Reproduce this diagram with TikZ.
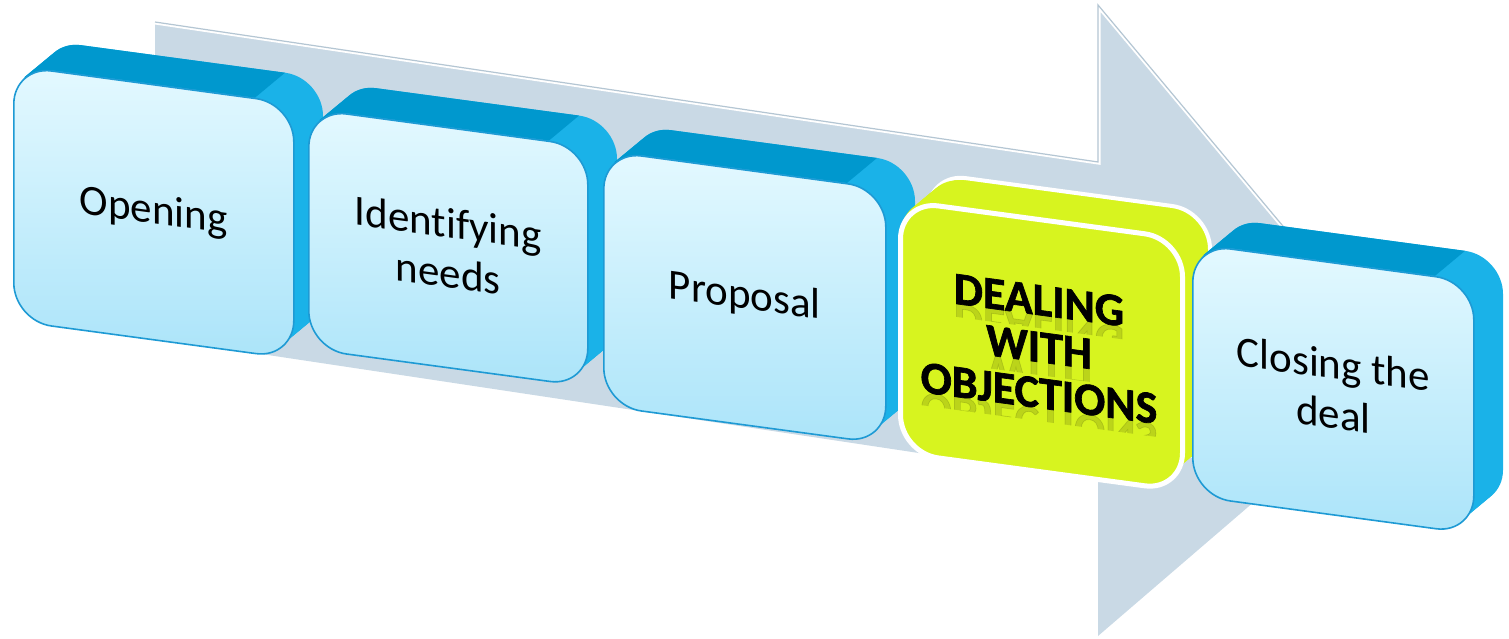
\documentclass[tikz,border=0pt]{standalone}
\usepackage{fontspec}
\setmainfont{Carlito}[Ligatures={NoCommon}]
\newfontfamily\heavyfont{Carlito}[Ligatures={NoCommon}, BoldFeatures={FakeBold=1.5}]
\usepackage{tikz}
\definecolor{arrowgrey}{HTML}{C9D9E5}
\definecolor{arrowedge}{HTML}{B4C6D3}
\definecolor{sideblue}{HTML}{1AB2E8}
\definecolor{topblue}{HTML}{0098CE}
\definecolor{edgeblue}{HTML}{1E9AD4}
\definecolor{facetop}{HTML}{E4F9FF}
\definecolor{facebottom}{HTML}{ABE4F9}
\definecolor{lime}{HTML}{D7F41F}

\tikzset{
  cardside/.style={fill=sideblue, rounded corners=38},
  cardtop/.style={fill=topblue},
  cardface/.style={draw=edgeblue, line width=1.6, rounded corners=38,
    top color=facetop, bottom color=facebottom, transform shape,
    align=center, inner sep=0, font=\fontsize{43}{50}\selectfont},
  limeface/.style={fill=lime, draw=white, line width=5, rounded corners=38,
    transform shape, inner sep=0},
  dealtext/.style={transform shape, inner sep=0,
    font=\heavyfont\bfseries\fontsize{46}{50}\selectfont},
}

% one raised blue step: x, y of the front corner, width, height, name, label
\newcommand{\bluecard}[6]{%
  \begin{scope}[shift={(#1,638-#2)}, yslant=-0.135]
    \foreach \t in {10,...,1}
      \fill[cardside] (3*\t,2.9*\t-#4) rectangle ++(#3,#4);
    \fill[cardtop] (11,-11) -- (38,0) -- (#3-38,0) -- (#3-8,29)
      -- (68,29) arc[start angle=90, end angle=135, radius=38] -- cycle;
    \node[cardface, minimum width=#3pt, minimum height=#4pt,
      anchor=north west] (#5) at (0,0) {#6};
  \end{scope}}

\begin{document}
\begin{tikzpicture}[x=1pt, y=1pt]
  \useasboundingbox (0,0) rectangle (1509,638);

  % big arrow behind the steps
  \fill[arrowgrey] (155,616) -- (1098,476) -- (1098,633) -- (1405,266)
    -- (1098,2) -- (1098,158) -- (155,300) -- cycle;
  \draw[white, line width=5] (155,616) -- (1098,476) -- (1098,633) -- (1405,266);
  \draw[arrowedge, line width=1.2] (155,616) -- (1098,476) -- (1098,633) -- (1405,266);

  \bluecard{13}{65}{280}{255}{opening}{Opening}
  \bluecard{308}{108}{279}{240}{needs}{Identifying\\needs}
  \bluecard{603}{150}{282}{255}{proposal}{Proposal}

  % highlighted step
  \begin{scope}[shift={(898,440)}, yslant=-0.135]
    \fill[lime, draw=white, line width=4, rounded corners=38] (30,29-252) rectangle ++(282,252);
    \foreach \t in {9,...,1}
      \fill[lime, rounded corners=38] (3*\t,2.9*\t-252) rectangle ++(282,252);
    \node[limeface, minimum width=282pt, minimum height=252pt,
      anchor=north west] (objections) at (0,0) {};
    \foreach \word/\base/\id in {DEALING/-98/dealing, WITH/-145/with, OBJECTIONS/-191/objs} {
      \begin{scope}
        \clip (0,\base) rectangle (282,\base-13);
        \node[dealtext, anchor=base, yscale=-1, opacity=.13] (\id echo) at (141,\base) {\word};
      \end{scope}
      \node[dealtext, anchor=base] (\id) at (141,\base) {\word};
    }
  \end{scope}

  \bluecard{1192}{243}{281}{252}{closing}{Closing the\\deal}
\end{tikzpicture}
\end{document}
